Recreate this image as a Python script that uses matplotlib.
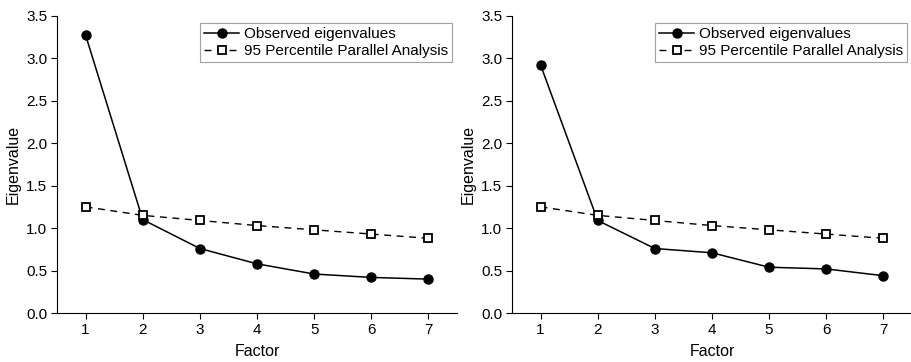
import matplotlib
matplotlib.use('Agg')
import matplotlib.pyplot as plt

factors = [1, 2, 3, 4, 5, 6, 7]
observed_left = [3.27, 1.10, 0.76, 0.58, 0.46, 0.42, 0.40]
observed_right = [2.92, 1.09, 0.76, 0.71, 0.54, 0.52, 0.44]
parallel_95 = [1.25, 1.15, 1.09, 1.03, 0.98, 0.93, 0.88]
yticks = [0.0, 0.5, 1.0, 1.5, 2.0, 2.5, 3.0, 3.5]

plt.rcParams['font.family'] = ['Liberation Sans', 'DejaVu Sans']
plt.rcParams['font.size'] = 11

fig = plt.figure(figsize=(9.11, 3.62), dpi=100)
positions = [[0.0626, 0.135, 0.439, 0.822], [0.562, 0.135, 0.439, 0.822]]

for pos, observed in zip(positions, [observed_left, observed_right]):
    ax = fig.add_axes(pos)
    ax.plot(factors, observed, '-', color='black', lw=1.1, marker='o',
            ms=6.5, label='Observed eigenvalues')
    ax.plot(factors, parallel_95, '--', color='black', lw=1.0, marker='s',
            ms=5.5, mfc='white', mew=1.3, dashes=(5, 4),
            label='95 Percentile Parallel Analysis')
    ax.set_xlim(0.5, 7.5)
    ax.set_ylim(0, 3.5)
    ax.set_xticks(factors)
    ax.set_yticks(yticks)
    ax.set_yticklabels([f'{v:.1f}' for v in yticks])
    ax.spines['top'].set_visible(False)
    ax.spines['right'].set_visible(False)
    ax.tick_params(direction='out', length=4, width=0.8, labelsize=11, pad=3)
    ax.set_xlabel('Factor', fontsize=11.5, labelpad=5)
    ax.set_ylabel('Eigenvalue', fontsize=11.5, labelpad=4)
    leg = ax.legend(loc='upper right', bbox_to_anchor=(0.995, 0.985), frameon=True,
                    fancybox=False, edgecolor='#888888', fontsize=11,
                    handlelength=2.3, handletextpad=0.3, borderpad=0.25,
                    labelspacing=0.2, borderaxespad=0.2)
    leg.get_frame().set_linewidth(0.8)

fig.savefig('out.png', dpi=100)
